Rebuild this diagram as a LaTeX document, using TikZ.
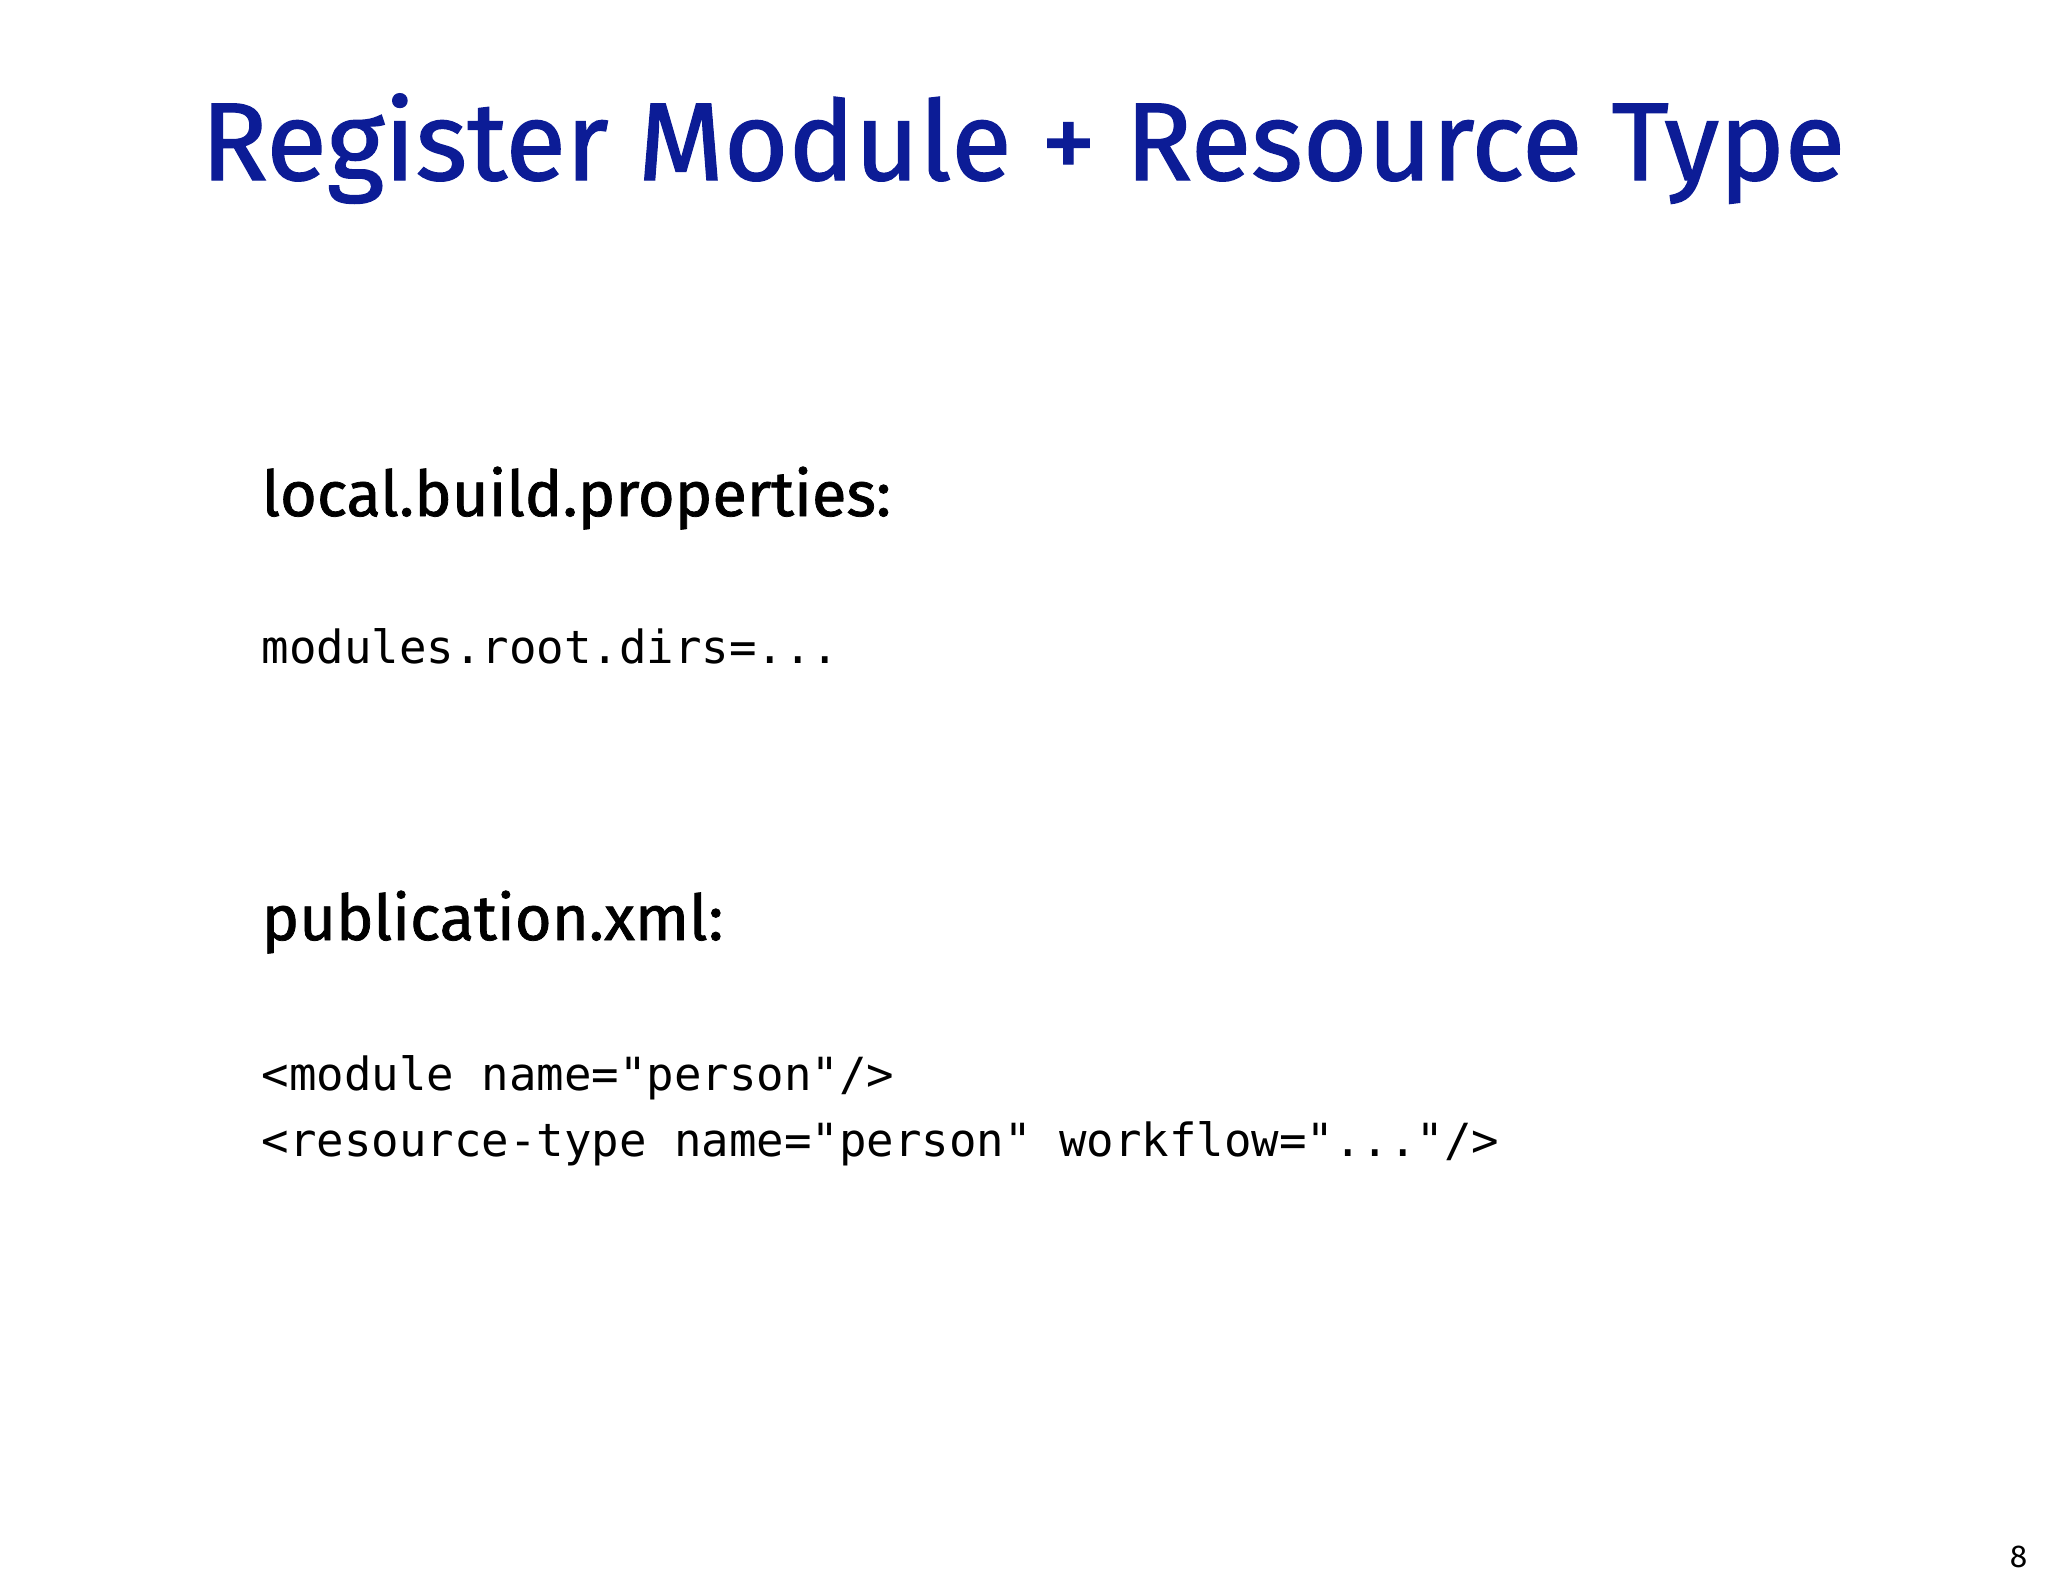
\documentclass[tikz,border=0pt]{standalone}
\usepackage{fontspec}
\setmainfont{Fira Sans}
\newfontfamily\headfont[FakeBold=1.2]{Fira Sans}
\setmonofont{DejaVu Sans Mono}
\definecolor{titleblue}{RGB}{12,28,150}
\begin{document}
\begin{tikzpicture}[x=1cm,y=1cm,
  head/.style={anchor=base west,inner sep=0pt,font=\headfont\fontsize{18}{22}\selectfont},
  code/.style={anchor=base west,inner sep=0pt,font=\ttfamily\fontsize{13}{16}\selectfont}]
\useasboundingbox[fill=white] (0,0) rectangle (20.48,-15.87);
\node[anchor=base,inner sep=0pt,text=titleblue,font=\headfont\fontsize{31.5}{38}\selectfont] (title) at (10.23,-1.80) {Register Module + Resource Type};
\node[head] (h1) at (2.61,-5.16) {local.build.properties:};
\node[code] (c1) at (2.61,-6.63) {modules.root.dirs=...};
\node[head] (h2) at (2.61,-9.40) {publication.xml:};
\node[code] (c2) at (2.61,-10.90) {<module name="person"/>};
\node[code] (c3) at (2.61,-11.56) {<resource-type name="person" workflow="..."/>};
\node[anchor=base east,inner sep=0pt,font=\fontsize{9}{11}\selectfont] (pg) at (20.28,-15.67) {8};
\end{tikzpicture}
\end{document}
